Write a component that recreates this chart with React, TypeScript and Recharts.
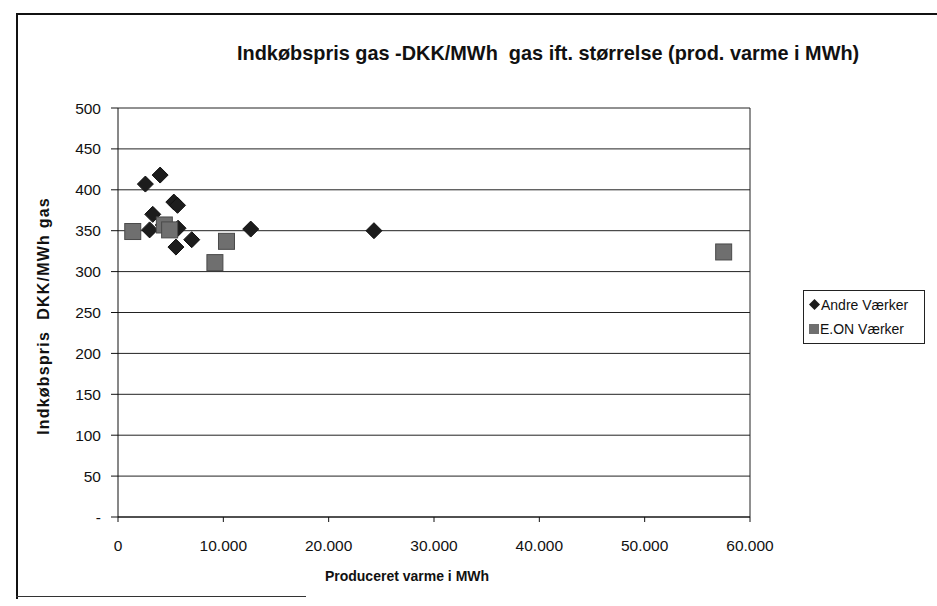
import { ScatterChart, Scatter, XAxis, YAxis, CartesianGrid, ReferenceLine } from "recharts"

const andreX = [2600, 4000, 5300, 5650, 3300, 3000, 5500, 7000, 12600, 24300, 5700, 4300]
const andreY = [407, 418, 385, 381, 370, 351, 330, 339, 352, 350, 353, 357]
const eonX = [1400, 4400, 4900, 10300, 9200, 57500]
const eonY = [349, 357, 351, 337, 311, 324]

const xTicks = [0, 10000, 20000, 30000, 40000, 50000, 60000]
const yTicks = [0, 50, 100, 150, 200, 250, 300, 350, 400, 450, 500]

const andre = andreX.map((x, i) => ({ x, y: andreY[i] }))
const eon = eonX.map((x, i) => ({ x, y: eonY[i] }))

const font = "'Liberation Sans', Arial, sans-serif"

const Diamond = ({ cx, cy }: any) => (
  <polygon
    points={`${cx},${cy - 8} ${cx + 8},${cy} ${cx},${cy + 8} ${cx - 8},${cy}`}
    fill="#1c1c1c"
    stroke="#111"
    strokeWidth={1}
  />
)

const Square = ({ cx, cy }: any) => (
  <rect x={cx - 8} y={cy - 8} width={16} height={16} fill="#6f6f6f" stroke="#4a4a4a" strokeWidth={1} />
)

const fmtX = (v: number) => (v === 0 ? "0" : v.toLocaleString("de-DE"))
const fmtY = (v: number) => (v === 0 ? "-" : String(v))

function ChartLegend() {
  return (
    <div
      style={{
        position: "absolute",
        left: 803,
        top: 290,
        width: 115,
        border: "1px solid #222",
        padding: "2px 0 2px 5px",
        background: "#fff",
        fontFamily: font,
        fontSize: 14,
        lineHeight: "24px",
        color: "#111",
      }}
    >
      <div>
        <svg width={11} height={11} style={{ marginRight: 1 }}>
          <polygon points="5.5,0 11,5.5 5.5,11 0,5.5" fill="#1c1c1c" />
        </svg>
        Andre Værker
      </div>
      <div>
        <svg width={10} height={10} style={{ marginRight: 1 }}>
          <rect x={0} y={0} width={10} height={10} fill="#6f6f6f" />
        </svg>
        E.ON Værker
      </div>
    </div>
  )
}

export default function App() {
  return (
    <div style={{ position: "absolute", left: 0, top: 0, width: 937, height: 606, background: "#fff", fontFamily: font }}>
      <div style={{ position: "absolute", left: 16, top: 13, width: 921, height: 584, borderLeft: "2px solid #111", borderTop: "2px solid #111" }} />
      <div style={{ position: "absolute", left: 16, top: 596, width: 290, borderTop: "1px solid #333" }} />
      <div
        style={{
          position: "absolute",
          left: 237,
          top: 42,
          fontSize: 19.9,
          fontWeight: "bold",
          color: "#111",
          whiteSpace: "pre",
        }}
      >
        {"Indkøbspris gas -DKK/MWh  gas ift. størrelse (prod. varme i MWh)"}
      </div>
      <div
        style={{
          position: "absolute",
          left: 44,
          top: 316,
          transform: "translate(-50%, -50%) rotate(-90deg)",
          fontSize: 16,
          letterSpacing: 1.2,
          fontWeight: "bold",
          color: "#111",
          whiteSpace: "pre",
        }}
      >
        {"Indkøbspris  DKK/MWh gas"}
      </div>
      <div
        style={{
          position: "absolute",
          left: 407,
          top: 576,
          transform: "translate(-50%, -50%)",
          fontSize: 14,
          fontWeight: "bold",
          color: "#111",
          whiteSpace: "pre",
        }}
      >
        Produceret varme i MWh
      </div>
      <div style={{ position: "absolute", left: 0, top: 0 }}>
        <ScatterChart width={937} height={606} margin={{ top: 108, right: 187, bottom: 29, left: 58 }}>
          <CartesianGrid horizontal vertical={false} stroke="#222" strokeOpacity={1} />
          <XAxis
            type="number"
            dataKey="x"
            domain={[0, 60000]}
            ticks={xTicks}
            tickFormatter={fmtX}
            height={60}
            tickSize={5}
            tickMargin={18}
            stroke="#111"
            tick={{ fill: "#111", fontSize: 15.5, fontFamily: font }}
          />
          <YAxis
            type="number"
            dataKey="y"
            domain={[0, 500]}
            ticks={yTicks}
            tickFormatter={fmtY}
            width={60}
            tickSize={7}
            tickMargin={10}
            stroke="#111"
            tick={{ fill: "#111", fontSize: 15.5, fontFamily: font }}
          />
          <ReferenceLine x={60000} stroke="#222" />
          <Scatter name="Andre Værker" data={andre} shape={Diamond} isAnimationActive={false} />
          <Scatter name="E.ON Værker" data={eon} shape={Square} isAnimationActive={false} />
        </ScatterChart>
      </div>
      <ChartLegend />
    </div>
  )
}
